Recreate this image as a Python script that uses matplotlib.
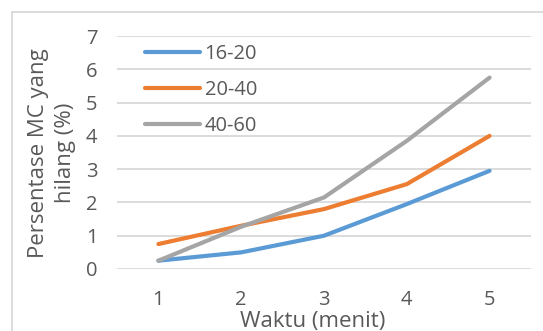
import matplotlib
matplotlib.use("Agg")
import matplotlib.pyplot as plt
from matplotlib.lines import Line2D

# Persentase MC yang hilang per waktu, untuk tiap rentang
waktu = [1, 2, 3, 4, 5]
seri_16_20 = [0.25, 0.5, 1.0, 1.95, 2.95]
seri_20_40 = [0.75, 1.3, 1.8, 2.55, 4.0]
seri_40_60 = [0.25, 1.27, 2.15, 3.85, 5.75]
label_seri = ["16-20", "20-40", "40-60"]
y_ticks = [0, 1, 2, 3, 4, 5, 6, 7]

plt.rcParams["font.family"] = ["Open Sans", "DejaVu Sans"]
text_color = "#595959"
grid_color = "#d9d9d9"
colors = ["#5B9BD5", "#ED7D31", "#A5A5A5"]

fig = plt.figure(figsize=(5.43, 3.31), dpi=100)
ax = fig.add_axes([117 / 543, 1 - 269 / 331, (531 - 117) / 543, (269 - 36) / 331])

for values, label, color in zip([seri_16_20, seri_20_40, seri_40_60], label_seri, colors):
    ax.plot(waktu, values, color=color, lw=3.0, label=label, solid_capstyle="round")

ax.set_xlim(0.5, 5.5)
ax.set_ylim(0, 7)
ax.set_yticks(y_ticks)
ax.set_xticks(waktu)
ax.grid(axis="y", color=grid_color, lw=1.3)
ax.set_axisbelow(True)
for spine in ax.spines.values():
    spine.set_visible(False)
ax.tick_params(axis="both", length=0, labelsize=14.5, labelcolor=text_color)
ax.tick_params(axis="y", pad=14)
ax.tick_params(axis="x", pad=15)

# two-line y title, placed by hand so it can sit close to the tick labels
fig.text(52 / 543, 1 - 153 / 331, "Persentase MC yang\nhilang (%)", fontsize=16,
         color=text_color, rotation=90, ha="center", va="center",
         multialignment="center", linespacing=1.42)

fig.text(313 / 543, 1 - 322 / 331, "Waktu (menit)", fontsize=16, color=text_color,
         ha="center", va="center")

leg = ax.legend(loc="upper left", bbox_to_anchor=(0.068, 0.965), frameon=False,
                fontsize=14.5, handlelength=2.7, handletextpad=0.25,
                labelspacing=0.8, borderaxespad=0, borderpad=0)
for t in leg.get_texts():
    t.set_color(text_color)

# outer chart border (left and top edges)
fig.add_artist(Line2D([12 / 543, 12 / 543], [0, 1 - 12 / 331], color=grid_color, lw=1.3,
                      transform=fig.transFigure))
fig.add_artist(Line2D([12 / 543, 1], [1 - 12 / 331, 1 - 12 / 331], color=grid_color, lw=1.3,
                      transform=fig.transFigure))

fig.savefig("out.png", dpi=100)
